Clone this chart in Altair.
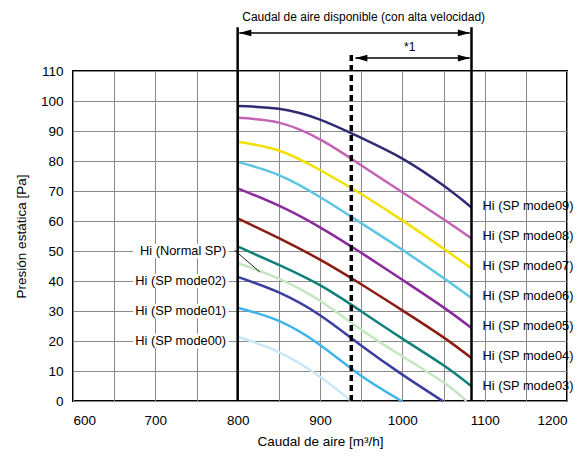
import altair as alt
import pandas as pd

# ---- data ----
series_names = ["Hi (SP mode09)", "Hi (SP mode08)", "Hi (SP mode07)", "Hi (SP mode06)",
                "Hi (SP mode05)", "Hi (SP mode04)", "Hi (SP mode03)", "Hi (Normal SP)",
                "Hi (SP mode02)", "Hi (SP mode01)", "Hi (SP mode00)"]
series_colors = ["#2f2c74", "#c462b4", "#f2e100", "#5cc6e2", "#8b2a9c", "#8c1c12",
                 "#10807a", "#c6e6c2", "#3b3ea0", "#3db5ec", "#c9e8f5"]

mode09_x = [800, 850, 900, 950, 1000, 1050, 1084]
mode09_y = [98.3, 97.4, 93.8, 87.7, 80.8, 71.8, 64.5]
mode08_x = [800, 850, 900, 950, 1000, 1050, 1084]
mode08_y = [94.4, 92.8, 87.2, 78.6, 69.6, 60.6, 54.2]
mode07_x = [800, 850, 900, 950, 1000, 1050, 1084]
mode07_y = [86.4, 83.5, 77.0, 69.0, 60.2, 50.8, 44.2]
mode06_x = [800, 850, 900, 950, 1000, 1050, 1084]
mode06_y = [79.7, 75.3, 68.0, 59.3, 50.4, 41.0, 34.3]
mode05_x = [800, 850, 900, 950, 1000, 1050, 1084]
mode05_y = [70.9, 65.1, 57.9, 49.4, 40.4, 31.2, 24.3]
mode04_x = [800, 850, 900, 950, 1000, 1050, 1084]
mode04_y = [60.9, 54.3, 47.1, 38.9, 30.2, 21.2, 14.3]
mode03_x = [800, 850, 900, 950, 1000, 1050, 1084]
mode03_y = [51.5, 45.4, 38.6, 29.9, 20.8, 11.9, 4.9]
normal_x = [800, 850, 900, 950, 1000, 1050, 1078]
normal_y = [46.0, 40.8, 33.4, 23.8, 14.9, 6.2, 0.0]
mode02_x = [800, 850, 900, 950, 1000, 1049]
mode02_y = [41.4, 36.2, 28.6, 18.5, 8.8, 0.0]
mode01_x = [800, 850, 900, 950, 999]
mode01_y = [31.1, 26.7, 18.7, 8.4, 0.0]
mode00_x = [800, 850, 900, 938]
mode00_y = [21.4, 16.3, 8.1, 0.0]

curve_xs = [mode09_x, mode08_x, mode07_x, mode06_x, mode05_x, mode04_x,
            mode03_x, normal_x, mode02_x, mode01_x, mode00_x]
curve_ys = [mode09_y, mode08_y, mode07_y, mode06_y, mode05_y, mode04_y,
            mode03_y, normal_y, mode02_y, mode01_y, mode00_y]

x_label_ticks = [600, 700, 800, 900, 1000, 1100, 1200]
x_grid_ticks = [600, 650, 700, 750, 800, 850, 900, 950, 1000, 1050, 1100, 1150, 1200]
y_ticks = [0, 10, 20, 30, 40, 50, 60, 70, 80, 90, 100, 110]

right_labels = ["Hi (SP mode09)", "Hi (SP mode08)", "Hi (SP mode07)", "Hi (SP mode06)",
                "Hi (SP mode05)", "Hi (SP mode04)", "Hi (SP mode03)"]
right_label_y = [65, 55, 45, 35, 25, 15, 5]
left_labels = ["Hi (Normal SP)", "Hi (SP mode02)", "Hi (SP mode01)", "Hi (SP mode00)"]
left_label_y = [50, 40, 30, 20]

range_start = 800
range_end = 1084
range_star = 938
top_text = "Caudal de aire disponible (con alta velocidad)"
star_text = "*1"

# ---- build tables ----
rows = []
for name, xs, ys in zip(series_names, curve_xs, curve_ys):
    for a, b in zip(xs, ys):
        rows.append({"name": name, "x": a, "y": b})
curves = pd.DataFrame(rows)

FONT = "Liberation Sans"
xs_scale = alt.Scale(domain=[600, 1200], nice=False, zero=False)
ys_scale = alt.Scale(domain=[0, 110], nice=False)
x_axis = alt.Axis(values=x_grid_ticks, title="Caudal de aire [m³/h]",
                  labelExpr="datum.value % 100 == 0 ? datum.label : ''",
                  format="d", labelPadding=12, titlePadding=8)
y_axis = alt.Axis(values=y_ticks, title="Presión estática [Pa]",
                  labelPadding=10, titlePadding=12)


def X(f="x"):
    return alt.X(f"{f}:Q", scale=xs_scale, axis=x_axis)


def Y(f="y"):
    return alt.Y(f"{f}:Q", scale=ys_scale, axis=y_axis)


lines = alt.Chart(curves).mark_line(strokeWidth=2.5, interpolate="natural").encode(
    x=X(), y=Y(),
    color=alt.Color("name:N", scale=alt.Scale(domain=series_names, range=series_colors), legend=None),
    detail="name:N",
    order="x:Q",
)

# white boxes behind the left labels
left_df = pd.DataFrame({"label": left_labels, "y": left_label_y})
left_df["x1"] = 673
left_df["x2"] = 789
left_df["xr"] = 786
left_df["y1"] = left_df["y"] - 2.4
left_df["y2"] = left_df["y"] + 2.4
left_bg = alt.Chart(left_df).mark_rect(color="white").encode(
    x=X("x1"), x2="x2:Q", y=Y("y1"), y2="y2:Q")
left_txt = alt.Chart(left_df).mark_text(align="right", baseline="middle", font=FONT,
                                        fontSize=12.8, color="black").encode(
    x=X("xr"), y=Y(), text="label:N")

# leader to Normal SP curve
leader_df = pd.DataFrame({"x": [796], "x2": [827], "y": [50.3], "y2": [43.0]})
leader = alt.Chart(leader_df).mark_rule(color="#222", strokeWidth=1).encode(
    x=X(), x2="x2:Q", y=Y(), y2="y2:Q")

right_df = pd.DataFrame({"label": right_labels, "y": right_label_y, "x": [1097.5] * len(right_labels)})
right_txt = alt.Chart(right_df).mark_text(align="left", baseline="middle", font=FONT,
                                          fontSize=12.8, color="black").encode(
    x=X(), y=Y(), text="label:N")

# vertical range lines
vlines_df = pd.DataFrame({"x": [range_start, range_end], "y": [0, 0], "y2": [124.6, 124.6]})
vlines = alt.Chart(vlines_df).mark_rule(color="black", strokeWidth=2.5).encode(
    x=X(), y=Y(), y2="y2:Q")
dash_df = pd.DataFrame({"x": [range_star], "y": [0], "y2": [116.5]})
dash = alt.Chart(dash_df).mark_rule(color="black", strokeWidth=3.5, strokeDash=[6, 4],
                                    strokeCap="butt").encode(x=X(), y=Y(), y2="y2:Q")

# arrows
arrows_df = pd.DataFrame({"x": [range_start + 2, range_star + 5], "x2": [range_end - 2, range_end - 2],
                          "y": [122.7, 114.3]})
arrows = alt.Chart(arrows_df).mark_rule(color="black", strokeWidth=1.5).encode(
    x=X(), x2="x2:Q", y=Y())
left_heads = alt.Chart(arrows_df).mark_point(shape="M 0 0 L 2 -0.55 L 2 0.55 Z", filled=True,
                                             size=144, color="black", opacity=1).encode(x=X(), y=Y())
right_heads = alt.Chart(arrows_df).mark_point(shape="M 0 0 L -2 -0.55 L -2 0.55 Z", filled=True,
                                              size=144, color="black", opacity=1).encode(
    x=X("x2"), y=Y())

texts_df = pd.DataFrame({"t": [top_text, star_text], "x": [953, 1009], "y": [128.0, 118.0]})
top_txt = alt.Chart(texts_df).mark_text(font=FONT, fontSize=12, color="black",
                                        baseline="middle", align="center").encode(
    x=X(), y=Y(), text="t:N")

chart = alt.layer(
    left_bg, lines, leader, vlines, dash, arrows, left_heads, right_heads,
    left_txt, right_txt, top_txt
).properties(
    width=494, height=330,
    autosize=alt.AutoSizeParams(type="none"),
    padding={"left": 65, "top": 63, "right": 7, "bottom": 51},
).configure_view(
    stroke="black", strokeWidth=2
).configure_axis(
    grid=True, gridColor="#8a8a8a", gridWidth=1, domain=False, ticks=False,
    labelFont=FONT, labelFontSize=13.5, labelColor="black",
    titleFont=FONT, titleFontSize=13.5, titleFontWeight="normal", titleColor="black",
)

chart.save("out.html", embed_options={"renderer": "svg", "actions": False})
